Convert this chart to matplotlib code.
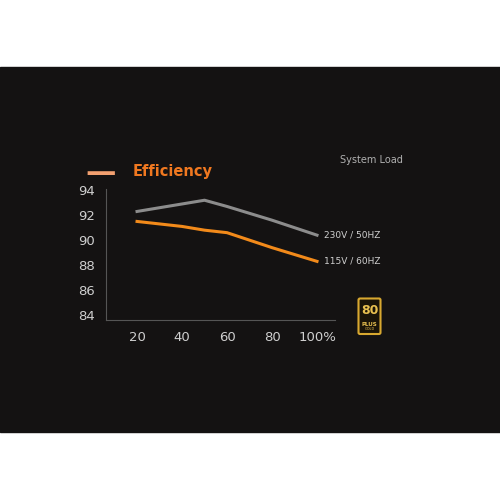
import matplotlib.pyplot as plt
from matplotlib.patches import Rectangle, FancyBboxPatch

load = [20, 40, 50, 60, 80, 100]
eff_230 = [92.3, 92.9, 93.2, 92.7, 91.6, 90.4]
eff_115 = [91.5, 91.1, 90.8, 90.6, 89.4, 88.3]
yticks = [84, 86, 88, 90, 92, 94]
xticks = [20, 40, 60, 80, 100]
xlabels = ["20", "40", "60", "80", "100%"]

fig = plt.figure(figsize=(5, 5), dpi=100)
fig.patch.set_facecolor("white")
fig.patches.append(Rectangle((0, 0.136), 1, 0.73, transform=fig.transFigure,
                             color="#141212", zorder=-5))

ax = fig.add_axes([0.212, 0.36, 0.458, 0.262])
ax.set_zorder(2)
ax.set_facecolor("none")
ax.plot(load, eff_230, color="#8c8c8c", lw=2.2)
ax.plot(load, eff_115, color="#f28a1a", lw=2.2)
ax.set_xlim(6.2, 108)
ax.set_ylim(83.6, 94.1)
ax.set_yticks(yticks)
ax.set_xticks(xticks)
ax.set_xticklabels(xlabels)
ax.tick_params(colors="#cfcfcf", labelsize=9.5, length=0, pad=8)
for s in ["top", "right"]:
    ax.spines[s].set_visible(False)
for s in ["left", "bottom"]:
    ax.spines[s].set_color("#555555")

ax.text(103, 90.4, "230V / 50HZ", color="#d0d0d0", fontsize=6.5, va="center")
ax.text(103, 88.3, "115V / 60HZ", color="#d0d0d0", fontsize=6.5, va="center")

fig.text(0.17, 0.655, "\u2014", color="#f2a070", fontsize=22, va="center", ha="left",
         fontweight="bold")
fig.text(0.265, 0.657, "Efficiency", color="#f07820", fontsize=10.5, fontweight="bold",
         va="center")
fig.text(0.68, 0.68, "System Load", color="#b0b0b0", fontsize=7, va="center")

# 80 PLUS gold badge
fig.patches.append(FancyBboxPatch((0.72, 0.335), 0.038, 0.065,
                                  boxstyle="round,pad=0.003", transform=fig.transFigure,
                                  fc="#1a1408", ec="#d8a830", lw=1.5))
fig.text(0.739, 0.378, "80", color="#e8c050", fontsize=9, fontweight="bold", ha="center", va="center")
fig.text(0.739, 0.352, "PLUS", color="#e8c050", fontsize=4, fontweight="bold", ha="center", va="center")
fig.text(0.739, 0.341, "GOLD", color="#e8c050", fontsize=2.5, ha="center", va="center")

fig.savefig("out.png", dpi=100)
